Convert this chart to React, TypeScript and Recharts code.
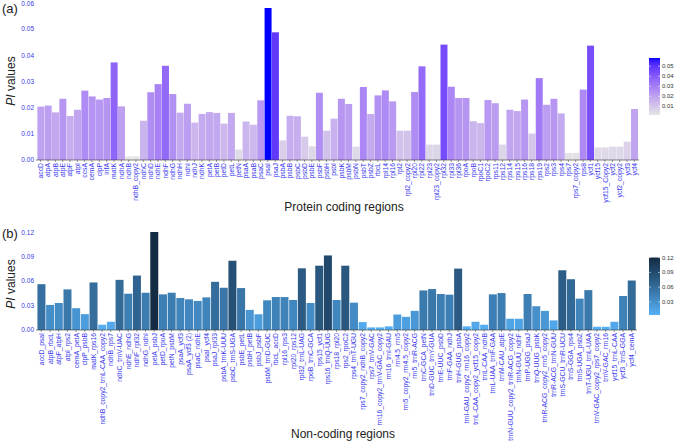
import React from "react";
import { BarChart, Bar, XAxis, YAxis, Cell } from "recharts";

// (a) protein coding regions
const proteinGenes = [
  "accD", "atpA", "atpB", "atpE", "atpF", "atpI", "ccsA", "cemA", "clpP", "infA",
  "matK", "ndhA", "ndhB", "ndhB_copy2", "ndhC", "ndhD", "ndhE", "ndhF", "ndhG", "ndhH",
  "ndhI", "ndhJ", "ndhK", "petA", "petB", "petD", "petL", "petN", "psaA", "psaB",
  "psaC", "psaI", "psaJ", "psbA", "psbB", "psbC", "psbD", "psbE", "psbF", "psbH",
  "psbI", "psbK", "psbM", "psbN", "psbT", "psbZ", "rbcL", "rpl14", "rpl16", "rpl2",
  "rpl2_copy2", "rpl20", "rpl22", "rpl23", "rpl23_copy2", "rpl32", "rpl33", "rpl36", "rpoA", "rpoB",
  "rpoC1", "rpoC2", "rps11", "rps12", "rps14", "rps15", "rps16", "rps18", "rps19", "rps2",
  "rps3", "rps4", "rps7", "rps7_copy2", "rps8", "ycf1", "ycf15", "ycf15_Copy2", "ycf2", "ycf2_copy2",
  "ycf3", "ycf4",
];
const proteinPi = [
  0.0204, 0.0208, 0.0182, 0.0234, 0.0168, 0.0192, 0.0265, 0.0243, 0.0231, 0.0237,
  0.0373, 0.0205, 0.0014, 0.0014, 0.015, 0.0259, 0.029, 0.036, 0.0252, 0.0181,
  0.0215, 0.0143, 0.0176, 0.0183, 0.018, 0.0139, 0.018, 0.004, 0.0147, 0.0135,
  0.0228, 0.0581, 0.0488, 0.0075, 0.0169, 0.0167, 0.0089, 0.0052, 0.0257, 0.0112,
  0.0158, 0.0234, 0.0214, 0.0051, 0.0279, 0.0176, 0.0247, 0.0266, 0.0224, 0.0112,
  0.0112, 0.026, 0.0358, 0.0059, 0.0059, 0.0441, 0.028, 0.0237, 0.0237, 0.0148,
  0.0141, 0.0229, 0.0217, 0.0059, 0.0192, 0.0187, 0.0231, 0.0101, 0.0313, 0.0211,
  0.0234, 0.0178, 0.0027, 0.0027, 0.0269, 0.0437, 0.0048, 0.0048, 0.0051, 0.0051,
  0.007, 0.0195,
];

// (b) non-coding regions
const noncodingRegions = [
  "accD_psaI", "atpB_rbcL", "atpF_atpH", "atpI_rps2", "cemA_petA", "clpP_psbB", "matK_rps16",
  "ndhB_copy2_trnL-CAA_copy2", "ndhB_rps7", "ndhC_trnV-UAC", "ndhE_ndhG", "ndhF_rpl32", "ndhG_ndhI",
  "petA_psbJ", "petD_rpoA", "petN_psbM", "psaA_ycf3", "psaA_ycf3 (2)", "psaC_ndhE", "psaI_ycf4",
  "psaJ_rpl33", "psbA_trnK-UUU", "psbC_trnS-UGA", "psbE_petL", "psbH_petB", "psbJ_psbF",
  "psbM_trnD-GUC", "rbcL_accD", "rpl16_rps3", "rpl20_rps12", "rpl32_trnL-UAG", "rpoB_trnC-GCA",
  "rps15_ycf1", "rps16_trnQ-UUG", "rps18_rpl20", "rps2_rpoC2", "rps4_trnT-UGU",
  "rps7_copy2_ndhB_copy2", "rps7_trnV-GAC", "rrn16_copy2_trnV-GAC_copy2", "rrn16_trnI-GAU",
  "rrn4.5_rrn5", "rrn5_copy2_rrn4.5_copy2", "rrn5_trnR-ACG", "trnC-GCA_petN", "trnD-GUC_trnY-GUA",
  "trnE-UUC_psbD", "trnF-GAA_ndhJ", "trnH-GUG_psbA", "trnI-GAU_copy2_rrn16_copy2",
  "trnL-CAA_copy2_ycf15_copy2", "trnL-CAA_ndhB", "trnL-UAA_trnF-GAA", "trnM-CAU_atpE",
  "trnN-GUU_copy2_trnR-ACG_copy2", "trnN-GUU_ndhF", "trnP-UGG_psaJ", "trnQ-UUG_psbK",
  "trnR-ACG_copy2_rrn5_copy2", "trnR-ACG_trnN-GUU", "trnS-GCU_trnR-UCU", "trnS-GGA_rps4",
  "trnS-UGA_psbZ", "trnT-UGU_trnL-UAA", "trnV-GAC_copy2_rps7_copy2", "trnV-GAC_rrn16",
  "ycf15_trnL-CAA", "ycf3_trnS-GGA", "ycf4_cemA",
];
const noncodingPi = [
  0.0563, 0.0308, 0.0332, 0.0499, 0.0268, 0.0195, 0.0584, 0.0065, 0.0101, 0.0616,
  0.0446, 0.0669, 0.0458, 0.1204, 0.0438, 0.0458, 0.0393, 0.0377, 0.0357, 0.0401,
  0.0592, 0.0519, 0.0851, 0.0515, 0.0247, 0.0195, 0.0365, 0.0405, 0.0405, 0.0369,
  0.0758, 0.0332, 0.079, 0.0916, 0.0369, 0.079, 0.0336, 0.0097, 0.0032, 0.0032,
  0.0045, 0.019, 0.0162, 0.0235, 0.0486, 0.0503, 0.0442, 0.0434, 0.0754, 0.0045,
  0.0101, 0.0065, 0.0438, 0.0454, 0.0138, 0.0138, 0.0442, 0.0292, 0.0235, 0.0118,
  0.0734, 0.0624, 0.0385, 0.049, 0.004, 0.004, 0.0101, 0.0418, 0.0608,
];

const proteinYTicks = [0, 0.01, 0.02, 0.03, 0.04, 0.05, 0.06];
const noncodingYTicks = [0, 0.03, 0.06, 0.09, 0.12];
const proteinLegendTicks = [0.01, 0.02, 0.03, 0.04, 0.05];
const noncodingLegendTicks = [0.03, 0.06, 0.09, 0.12];

const FONT = "'Liberation Sans', Arial, sans-serif";
const TICK_BLUE = "#3838ee";

// ---- colour ramp in CIELAB, like ggplot's scale_fill_gradient ----
const toLin = (c: number) => (c <= 0.04045 ? c / 12.92 : Math.pow((c + 0.055) / 1.055, 2.4));
const toGam = (c: number) => (c <= 0.0031308 ? 12.92 * c : 1.055 * Math.pow(c, 1 / 2.4) - 0.055);
const fLab = (t: number) => (t > 0.008856 ? Math.cbrt(t) : 7.787 * t + 16 / 116);
const fInv = (t: number) => (t * t * t > 0.008856 ? t * t * t : (t - 16 / 116) / 7.787);

function hexToLab(hex: string) {
  const n = parseInt(hex.slice(1), 16);
  const r = toLin(((n >> 16) & 255) / 255);
  const g = toLin(((n >> 8) & 255) / 255);
  const b = toLin((n & 255) / 255);
  const X = (0.4124564 * r + 0.3575761 * g + 0.1804375 * b) / 0.95047;
  const Y = 0.2126729 * r + 0.7151522 * g + 0.072175 * b;
  const Z = (0.0193339 * r + 0.119192 * g + 0.9503041 * b) / 1.08883;
  const fx = fLab(X), fy = fLab(Y), fz = fLab(Z);
  return [116 * fy - 16, 500 * (fx - fy), 200 * (fy - fz)];
}

function labToHex([L, a, bb]: number[]) {
  const fy = (L + 16) / 116;
  const X = fInv(fy + a / 500) * 0.95047;
  const Y = fInv(fy);
  const Z = fInv(fy - bb / 200) * 1.08883;
  const rgb = [
    3.2404542 * X - 1.5371385 * Y - 0.4985314 * Z,
    -0.969266 * X + 1.8760108 * Y + 0.041556 * Z,
    0.0556434 * X - 0.2040259 * Y + 1.0572252 * Z,
  ].map((c) => Math.round(Math.max(0, Math.min(1, toGam(c))) * 255));
  return "#" + rgb.map((c) => c.toString(16).padStart(2, "0")).join("");
}

function makeRamp(low: string, high: string, min: number, max: number) {
  const lo = hexToLab(low);
  const hi = hexToLab(high);
  return (v: number) => {
    const t = Math.max(0, Math.min(1, (v - min) / (max - min)));
    return labToHex(lo.map((c, i) => c + (hi[i] - c) * t));
  };
}

const rotatedTick = ({ x, y, payload }: any) => (
  <text
    x={x}
    y={y}
    transform={`rotate(-90 ${x} ${y})`}
    textAnchor="end"
    dominantBaseline="central"
    fontSize={6.8}
    fontFamily={FONT}
    fill={TICK_BLUE}
  >
    {payload.value}
  </text>
);

function Panel({ names, values, top, height, marginTop, axisHeight, rightMargin, yMax, yTicks, color }: any) {
  const data = names.map((n: string, i: number) => ({ name: n, pi: values[i] }));
  return (
    <div style={{ position: "absolute", left: 0, top }}>
      <BarChart
        width={676}
        height={height}
        data={data}
        margin={{ top: marginTop, right: rightMargin, bottom: 0, left: 0 }}
        barCategoryGap="5%"
      >
        <XAxis
          dataKey="name"
          interval={0}
          height={axisHeight}
          tick={rotatedTick}
          tickSize={2}
          tickMargin={1}
          padding={{ left: 1, right: 1 }}
          axisLine={{ stroke: "#333", strokeWidth: 0.6 }}
          tickLine={{ stroke: "#333", strokeWidth: 0.5 }}
        />
        <YAxis
          width={36}
          domain={[0, yMax]}
          ticks={yTicks}
          tickFormatter={(v: number) => v.toFixed(2)}
          tick={{ fontSize: 6.5, fill: TICK_BLUE, fontFamily: FONT }}
          axisLine={false}
          tickLine={false}
          tickSize={0}
          tickMargin={2}
        />
        <Bar dataKey="pi" isAnimationActive={false}>
          {data.map((d: any, i: number) => (
            <Cell key={i} fill={color(d.pi)} />
          ))}
        </Bar>
      </BarChart>
    </div>
  );
}

function ColorBar({ id, x, y0, y1, min, max, ticks, color }: any) {
  const h = y1 - y0;
  const stops = Array.from({ length: 21 }, (_, i) => i / 20);
  const yOf = (v: number) => y1 - ((v - min) / (max - min)) * h;
  return (
    <g>
      <defs>
        <linearGradient id={id} x1="0" y1="1" x2="0" y2="0">
          {stops.map((s) => (
            <stop key={s} offset={s} stopColor={color(min + s * (max - min))} />
          ))}
        </linearGradient>
      </defs>
      <rect x={x} y={y0} width={11} height={h} fill={`url(#${id})`} />
      {ticks.map((t: number) => (
        <g key={t}>
          <line x1={x} x2={x + 2} y1={yOf(t)} y2={yOf(t)} stroke="#fff" strokeWidth={0.5} />
          <line x1={x + 9} x2={x + 11} y1={yOf(t)} y2={yOf(t)} stroke="#fff" strokeWidth={0.5} />
          <text x={x + 13} y={yOf(t)} dominantBaseline="central" fontSize={6} fill="#333" fontFamily={FONT}>
            {t.toFixed(2)}
          </text>
        </g>
      ))}
    </g>
  );
}

export default function App() {
  const minA = Math.min(...proteinPi);
  const maxA = Math.max(...proteinPi);
  const minB = Math.min(...noncodingPi);
  const maxB = Math.max(...noncodingPi);
  const colorA = makeRamp("#E5E5E5", "#0000FF", minA, maxA);
  const colorB = makeRamp("#56B1F7", "#132B43", minB, maxB);

  return (
    <div style={{ position: "absolute", left: 0, top: 0, width: 676, height: 444, background: "#fff", fontFamily: FONT }}>
      <Panel
        names={proteinGenes}
        values={proteinPi}
        top={0}
        height={210}
        marginTop={3}
        axisHeight={50}
        rightMargin={37}
        yMax={0.06}
        yTicks={proteinYTicks}
        color={colorA}
      />
      <Panel
        names={noncodingRegions}
        values={noncodingPi}
        top={225}
        height={219}
        marginTop={7}
        axisHeight={114}
        rightMargin={39}
        yMax={0.12}
        yTicks={noncodingYTicks}
        color={colorB}
      />
      <svg width={676} height={444} style={{ position: "absolute", left: 0, top: 0, pointerEvents: "none" }}>
        <text x={2} y={13} fontSize={13} fill="#222" fontFamily={FONT}>(a)</text>
        <text x={2} y={238} fontSize={13} fill="#222" fontFamily={FONT}>(b)</text>
        <text transform="translate(15 81) rotate(-90)" textAnchor="middle" fontSize={12} fill="#222" fontFamily={FONT}>
          <tspan fontStyle="italic">PI</tspan> values
        </text>
        <text transform="translate(15 284) rotate(-90)" textAnchor="middle" fontSize={12} fill="#222" fontFamily={FONT}>
          <tspan fontStyle="italic">PI</tspan> values
        </text>
        <text x={344} y={211} textAnchor="middle" fontSize={12} fill="#222" fontFamily={FONT}>Protein coding regions</text>
        <text x={343} y={438} textAnchor="middle" fontSize={12} fill="#222" fontFamily={FONT}>Non-coding regions</text>
        <ColorBar id="cbA" x={649} y0={58} y1={115} min={minA} max={maxA} ticks={proteinLegendTicks} color={colorA} />
        <ColorBar id="cbB" x={649} y0={257.5} y1={315} min={minB} max={maxB} ticks={noncodingLegendTicks} color={colorB} />
      </svg>
    </div>
  );
}
